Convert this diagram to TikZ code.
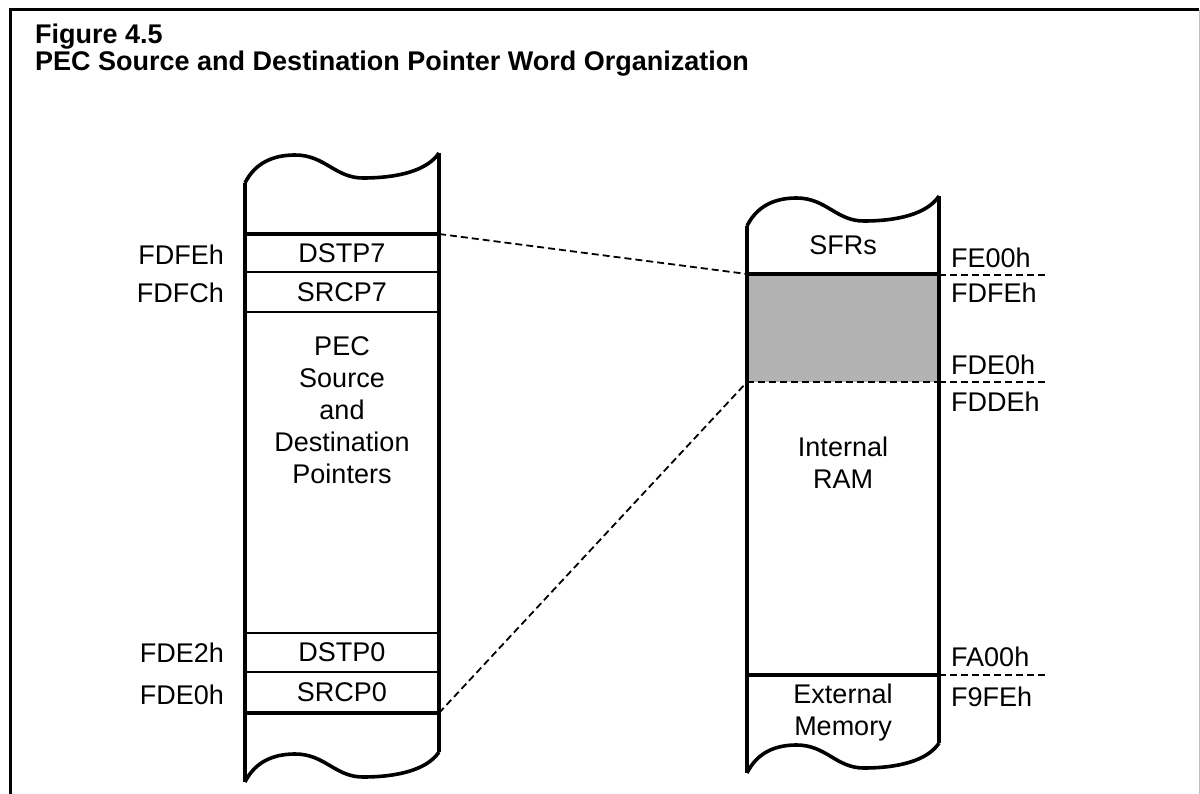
\documentclass[tikz,border=0pt]{standalone}
\usepackage{fontspec}
\setmainfont{Liberation Sans}

\tikzset{
  outline/.style={line width=3.6pt},
  cellline/.style={line width=2.2pt},
  addr/.style={inner sep=0pt},
  guide/.style={line width=1.8pt, dash pattern=on 7pt off 4pt},
}
\newcommand{\wavepath}{(0,0) .. controls (10,-20) and (28,-28) .. (50,-28) .. controls (80,-28) and (90,-5) .. (118,-5) .. controls (152,-5) and (182,-12) .. (194,-30)}

\begin{document}
\begin{tikzpicture}[x=1pt,y=-1pt,font=\fontsize{27}{32}\selectfont]
    \useasboundingbox (0,0) rectangle (1200,794);

    % frame and title
    \draw[line width=3pt] (10,794) -- (10,10) -- (1199,10);
    \draw[gray!50, line width=1pt] (1199,10) -- (1199,794);
    \node[anchor=base west, addr, font=\fontsize{27}{32}\selectfont\bfseries] (fig) at (35,44) {Figure 4.5};
    \node[anchor=base west, addr, font=\fontsize{27}{32}\selectfont\bfseries] (title) at (35,71) {PEC Source and Destination Pointer Word Organization};

    % pointer column
    \draw[outline] (245,782) -- (245,183);
    \draw[outline] (439,153) -- (439,752);
    \begin{scope}[shift={(245,183)}]
      \draw[outline] \wavepath;
    \end{scope}
    \begin{scope}[shift={(245,782)}]
      \draw[outline] \wavepath;
    \end{scope}
    \draw[outline] (245,234) -- (439,234);
    \draw[cellline] (245,272) -- (439,272);
    \draw[cellline] (245,312) -- (439,312);
    \draw[cellline] (245,633) -- (439,633);
    \draw[cellline] (245,672) -- (439,672);
    \draw[outline] (245,713) -- (439,713);
    \coordinate (ptop) at (439,234);
    \coordinate (pbot) at (439,713);
    \node (dstp7) at (342,253) {DSTP7};
    \node (srcp7) at (342,292) {SRCP7};
    \node[align=center] (pec) at (342,410) {PEC\\Source\\and\\Destination\\Pointers};
    \node (dstp0) at (342,652) {DSTP0};
    \node (srcp0) at (342,692) {SRCP0};
    \node[anchor=east, addr] (afdfe) at (224,255) {FDFEh};
    \node[anchor=east, addr] (afdfc) at (224,293) {FDFCh};
    \node[anchor=east, addr] (afde2) at (224,653) {FDE2h};
    \node[anchor=east, addr] (afde0) at (224,695) {FDE0h};

    % memory column
    \fill[black!30] (747,274) rectangle (939,382);
    \draw[outline] (747,773) -- (747,226);
    \draw[outline] (939,196) -- (939,743);
    \begin{scope}[shift={(747,226)}, xscale=0.99]
      \draw[outline] \wavepath;
    \end{scope}
    \begin{scope}[shift={(747,773)}, xscale=0.99]
      \draw[outline] \wavepath;
    \end{scope}
    \draw[outline] (747,274) -- (939,274);
    \draw[outline] (747,675) -- (939,675);
    \coordinate (mtop) at (747,274);
    \coordinate (mbot) at (747,382);
    \draw[guide] (mbot) -- (939,382);
    \draw[guide] (939,275) -- (1047,275);
    \draw[guide] (939,382) -- (1047,382);
    \draw[guide] (939,675) -- (1047,675);
    \node (sfr) at (843,245) {SFRs};
    \node[align=center] (iram) at (843,463) {Internal\\RAM};
    \node[align=center] (xmem) at (843,713) {External\\Memory};
    \node[anchor=west, addr] (bfe00) at (951,258) {FE00h};
    \node[anchor=west, addr] (bfdfe) at (951,293) {FDFEh};
    \node[anchor=west, addr] (bfde0) at (951,365) {FDE0h};
    \node[anchor=west, addr] (bfdde) at (951,402) {FDDEh};
    \node[anchor=west, addr] (bfa00) at (951,657) {FA00h};
    \node[anchor=west, addr] (bf9fe) at (951,697) {F9FEh};

    % links between the columns
    \draw[guide] (ptop) -- (mtop);
    \draw[guide] (pbot) -- (mbot);

\end{tikzpicture}
\end{document}
